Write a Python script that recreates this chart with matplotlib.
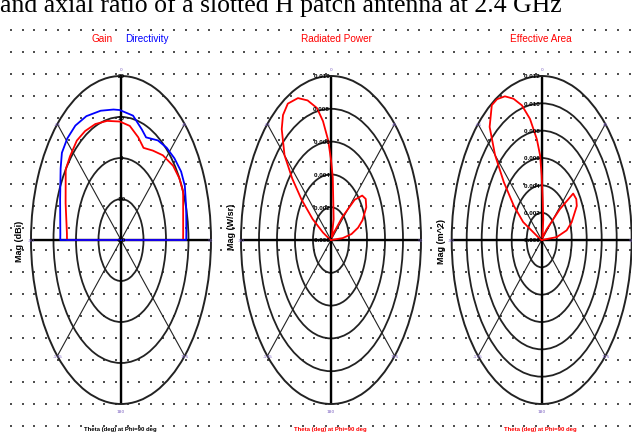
import numpy as np
import matplotlib.pyplot as plt

# theta in degrees (0 = top)
gain_theta = [-90, -90, -86, -70, -55, -48, -39, -31, -22, -12, -1, 8, 17, 24, 33, 42, 52, 60, 67, 75, 86, 90, 90]
gain_dbi = [-20, 4.0, 4.1, 6.2, 10.0, 10.5, 11.2, 11.0, 10.5, 9.7, 8.9, 8.1, 6.2, 4.6, 6.0, 7.8, 9.4, 10.0, 10.0, 8.6, 7.7, 7.6, -20]
dir_theta = [-90, -90, -87, -70, -57, -51, -44, -36, -27, -16, -6, -1, 10, 19, 24, 34, 42, 50, 58, 65, 75, 86, 90, 90]
dir_dbi = [-20, 7.0, 7.0, 8.8, 12.0, 13.8, 14.4, 14.5, 13.9, 12.8, 12.0, 11.7, 10.8, 8.5, 7.4, 9.3, 10.3, 11.0, 11.5, 11.3, 10.0, 9.1, 9.0, -20]

pow_theta = [-90, -70, -63, -58, -53, -49, -45, -39, -35, -30, -23, -17, -11, -7, -3, 0, 3, 6, 13, 20,
             30, 36, 42, 47, 52, 57, 63, 71, 76, 81, 85, 90]
pow_w = [0, 0.0002, 0.001, 0.0024, 0.0041, 0.0057, 0.0073, 0.0087, 0.0093, 0.0096, 0.0094, 0.0089, 0.0082,
         0.0073, 0.0061, 0.0049, 0.0038, 0.0024, 0.0013, 0.0003, 0.0002, 0.0006, 0.0019, 0.0036, 0.0044,
         0.0046, 0.0044, 0.0037, 0.0031, 0.0023, 0.0013, 0]

area_theta = [-90, -70, -62, -56, -50, -45, -40, -34, -30, -25, -20, -15, -10, -5, -2, 0, 2.5, 8, 15,
              30, 40, 47, 51, 57, 62, 72, 78, 84, 90]
area_m2 = [0, 0.0003, 0.0028, 0.0045, 0.0066, 0.0088, 0.0108, 0.0119, 0.0119, 0.0116, 0.011, 0.0102, 0.009,
           0.0074, 0.0062, 0.0047, 0.003, 0.0015, 0.0004, 0.0002, 0.001, 0.0033, 0.0054, 0.0055, 0.0053,
           0.0042, 0.0034, 0.002, 0]

gain_ticks = [-20, -10, 0, 10, 20]
pow_ticks = [0, 0.002, 0.004, 0.006, 0.008, 0.010]
area_ticks = [0, 0.002, 0.004, 0.006, 0.008, 0.010, 0.012]

angle_ticks = [0, 45, 90, 135, 180, 225, 270, 315]
angle_labels = ['0', '45', '90', '135', '180', '-135', '-90', '-45']

W, H = 632, 435
sans = 'Liberation Sans'

fig = plt.figure(figsize=(W / 100, H / 100), dpi=100)
fig.patch.set_facecolor('white')


def fx(x):
    return x / W


def fy(y):
    return 1 - y / H


# dotted sheet behind everything
bg = fig.add_axes([0, 0, 1, 1], zorder=0)
bg.set_xlim(0, W)
bg.set_ylim(H, 0)
bg.axis('off')
gx, gy = np.meshgrid(11 + 11.67 * np.arange(54), 31 + 22 * np.arange(19))
bg.scatter(gx.ravel(), gy.ravel(), marker='|', s=3.5, linewidths=1.1, color='#1a1a1a')

# caption, cut off at the top edge
fig.text(0.0, fy(12), 'and axial ratio of a slotted H patch antenna at 2.4 GHz',
         family='Liberation Serif', fontsize=18.5, va='baseline', ha='left')


def panel(cx, ticks, curves, fmt, label_ha):
    rx, ry = 90, 164
    ax = fig.add_axes([fx(cx - rx), fy(241 + ry), 2 * rx / W, 2 * ry / H],
                      projection='polar', zorder=2)
    ax.set_facecolor('none')
    ax.set_aspect('auto')
    ax.set_theta_zero_location('N')
    ax.set_theta_direction(-1)
    ax.set_ylim(ticks[0], ticks[-1])
    ax.set_xticks(np.deg2rad(angle_ticks))
    ax.set_xticklabels([])
    ax.set_yticks(ticks[1:-1])
    ax.set_yticklabels([])
    ax.xaxis.grid(True, color='#222222', lw=0.8)
    ax.yaxis.grid(True, color='#222222', lw=1.3)
    ax.spines['polar'].set_linewidth(1.4)
    ax.spines['polar'].set_color('#222222')
    for a in [0, 90, 180, 270]:
        ax.axvline(np.deg2rad(a), color='black', lw=1.7)
    for th, r, c in curves:
        ax.plot(np.deg2rad(th), r, color=c, lw=1.3, zorder=5)
    for t in ticks:
        ax.text(0, t, fmt(t) + (' ' if label_ha == 'right' else ''), fontsize=4.5, family=sans,
                fontweight='bold', ha=label_ha, va='center', zorder=6)
    for a, lab in zip(angle_ticks, angle_labels):
        dy = 5 if a == 0 else (-5 if a == 180 else 0)
        ax.annotate(lab, (np.deg2rad(a), ticks[-1]), xytext=(0, dy), textcoords='offset points',
                    fontsize=3.2, color='#7a5fc0', ha='center', va='center',
                    annotation_clip=False, zorder=6)
    return ax


panel(121, gain_ticks, [(gain_theta, gain_dbi, 'red'), (dir_theta, dir_dbi, 'blue')],
      lambda v: f'{v:g}', 'center')
panel(331, pow_ticks, [(pow_theta, pow_w, 'red')], lambda v: f'{v:.3f}', 'right')
panel(541.7, area_ticks, [(area_theta, area_m2, 'red')], lambda v: f'{v:.3f}', 'right')

# titles
tkw = dict(fontsize=7.2, family=sans, ha='center', va='center')
fig.text(fx(102), fy(39), 'Gain', color='red', **tkw)
fig.text(fx(147), fy(39), 'Directivity', color='blue', **tkw)
fig.text(fx(336), fy(39), 'Radiated Power', color='red', **tkw)
fig.text(fx(541), fy(39), 'Effective Area', color='red', **tkw)

# axis names
ykw = dict(rotation=90, fontsize=6.5, fontweight='bold', family=sans, ha='center', va='center')
fig.text(fx(20), fy(241), 'Mag (dBi)', **ykw)
fig.text(fx(232), fy(227), 'Mag (W/sr)', **ykw)
fig.text(fx(441), fy(242), 'Mag (m^2)', **ykw)

for x, c in [(120, 'black'), (330, 'red'), (540, 'red')]:
    fig.text(fx(x), fy(427), 'Theta (deg) at Phi=90 deg', color=c, fontsize=4.3, fontweight='bold',
             family=sans, ha='center', va='top')

fig.savefig('out.png', dpi=100)
